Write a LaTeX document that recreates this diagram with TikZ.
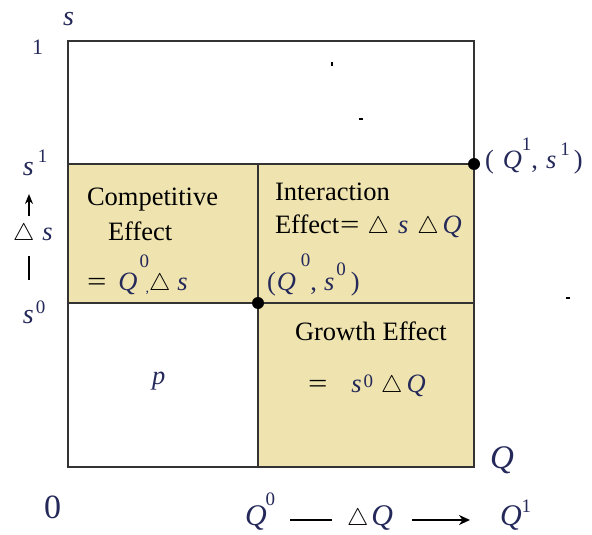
\RequirePackage{fix-cm}
\documentclass[tikz,border=0pt]{standalone}
\usepackage{fontspec}
\usepackage{graphicx}
\setmainfont{Liberation Serif}
\usetikzlibrary{arrows.meta}
\definecolor{tanfill}{RGB}{239,228,176}
\definecolor{navy}{HTML}{24295A}
\definecolor{edge}{HTML}{333333}
\newcommand{\mv}[1]{\textcolor{navy}{\itshape #1}}
\newcommand{\dg}[2]{\raisebox{#1pt}{\textcolor{navy}{\fontsize{19}{20}\selectfont #2}}}
\newcommand{\tri}{{\fontsize{24}{26}\selectfont$\triangle$}}
\newcommand{\hs}[1]{\hspace*{#1pt}}
\newcommand{\weq}{\scalebox{1.3}[1]{=}}
\begin{document}
\begin{tikzpicture}[x=1pt,y=-1pt,
  lbl/.style={anchor=base west,inner sep=0pt,outer sep=0pt,font=\fontsize{26.5}{30}\selectfont},
  grid/.style={draw=edge,line width=1.4pt},
  frame/.style={draw=edge,line width=2pt},
  tick/.style={line width=1.5pt}]
\useasboundingbox (0,0) rectangle (592,535);
% grid corners
\coordinate (A) at (68,41);
\coordinate (B) at (474,467);
\coordinate (L1) at (68,164);
\coordinate (R1) at (474,164);
\coordinate (L0) at (68,303);
\coordinate (R0) at (474,303);
\coordinate (M1) at (258,164);
\coordinate (M0) at (258,303);
\coordinate (Mb) at (258,467);
\fill[tanfill] (L1) rectangle (M0);
\fill[tanfill] (M1) rectangle (B);
\draw[grid] (L1) -- (R1);
\draw[grid] (L0) -- (R0);
\draw[grid] (M1) -- (Mb);
\draw[frame] (A) rectangle (B);
\fill (M0) circle (6);
\fill (R1) circle (6);
% stray marks
\fill (331,62) rectangle (333,66);
\fill (359,118) rectangle (363,120);
\fill (566,297) rectangle (570,299);
% left axis labels
\node[lbl] (sT) at (63,26) {\fontsize{28}{30}\selectfont\mv{s}};
\node[lbl] (oneT) at (32,55) {\fontsize{22}{24}\selectfont\textcolor{navy}{1}};
\node[lbl] (s1L) at (23,175) {\fontsize{28}{30}\selectfont\mv{s}\hs{4}\dg{13}{1}};
\node[lbl] (dsL) at (13,240) {\tri\hs{8}\mv{s}};
\node[lbl] (s0L) at (23,323) {\fontsize{28}{30}\selectfont\mv{s}\hs{2}\dg{10}{0}};
\coordinate (aB) at (29,216);
\coordinate (aT) at (29,194);
\coordinate (bT) at (29,256);
\coordinate (bB) at (29,280);
\draw[line width=1.3pt,-{Stealth[length=10pt,width=8pt]}] (aB) -- (aT);
\draw[line width=1.2pt] (bT) -- (bB);
% region labels
\node[lbl] (comp) at (87,205) {Competitive};
\node[lbl] (eff1) at (108,240) {Effect};
\node[lbl] (ceq) at (87,290) {\weq\hs{12}\mv{Q}\hs{2}\dg{23}{0}\llap{\raisebox{-2pt}{\fontsize{14}{14}\selectfont\textcolor{navy}{,}}}\tri\hs{7}\mv{s}};
\node[lbl] (inter) at (275,200) {Interaction};
\node[lbl] (ieff) at (275,233) {Effect\hs{1}\weq\hs{8}\tri\hs{9}\mv{s}\hs{9}\tri\hs{4}\mv{Q}};
\node[lbl] (q0s0) at (267,290) {\textcolor{navy}{(}\hs{1}\mv{Q}\hs{5}\dg{24}{0}\textcolor{navy}{,}\hs{7}\mv{s}\hs{2}\dg{15}{0}\hs{5}\textcolor{navy}{)}};
\node[lbl] (q1s1) at (485,168) {\textcolor{navy}{(}\hs{9}\mv{Q}\dg{18}{1}\textcolor{navy}{,}\hs{8}\mv{s}\hs{4}\dg{13}{1}\hs{4}\textcolor{navy}{)}};
\node[lbl] (grow) at (295,340) {Growth Effect};
\node[lbl] (geq) at (308,392) {\weq\hs{24}\mv{s}\hs{2}\dg{5}{0}\hs{8}\tri\hs{4}\mv{Q}};
\node[lbl] (pp) at (152,384) {\mv{p}};
% bottom axis labels
\node[lbl] (Qax) at (490,468) {\fontsize{33}{36}\selectfont\mv{Q}};
\node[lbl] (zero) at (44,518) {\fontsize{34}{36}\selectfont\textcolor{navy}{0}};
\node[lbl] (Q0b) at (245,525) {\fontsize{30}{32}\selectfont\mv{Q}\hs{-1}\dg{20}{0}};
\node[lbl] (dQb) at (347,525) {\tri\hs{3}\fontsize{30}{32}\selectfont\mv{Q}};
\node[lbl] (Q1b) at (500,525) {\fontsize{30}{32}\selectfont\mv{Q}\dg{13}{1}};
\coordinate (dL) at (290,520);
\coordinate (dR) at (332,520);
\coordinate (arL) at (412,520);
\coordinate (arR) at (470,520);
\draw[tick] (dL) -- (dR);
\draw[line width=2pt,-{Stealth[length=11pt,width=10pt]}] (arL) -- (arR);
\end{tikzpicture}
\end{document}
